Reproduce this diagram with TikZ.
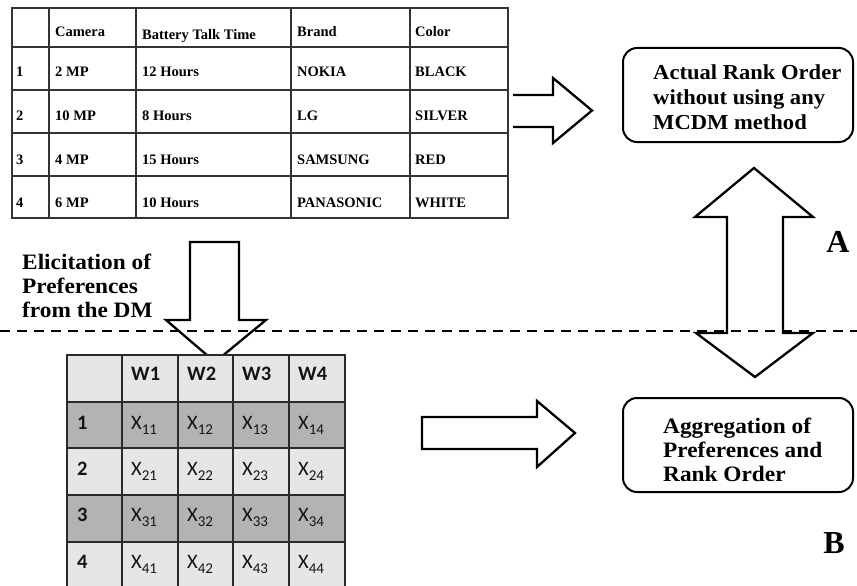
\documentclass[tikz,border=0pt]{standalone}
\usepackage{fontspec}
\setmainfont{Liberation Serif}
\newfontfamily\widefont[FakeStretch=1.06]{Liberation Serif}
\newfontfamily\calib{Carlito}
\definecolor{rowdark}{HTML}{B3B3B3}
\definecolor{rowlight}{HTML}{E6E6E6}
\definecolor{gridc}{HTML}{2A2A2A}
\newcommand{\xsub}[1]{X\raisebox{-5pt}{\fontsize{15}{16}\selectfont #1}}
\begin{document}
\begin{tikzpicture}[x=1pt,y=-1pt,line join=miter]
\useasboundingbox (0,0) rectangle (857,586);
\tikzset{
  tgrid/.style={draw=black!80,line width=1.3pt},
  ttxt/.style={anchor=base west,inner sep=0pt,font=\fontsize{14.5}{16}\selectfont\bfseries},
  blk/.style={draw=black,line width=2.3pt},
  rbox/.style={draw=black,line width=2pt,rounded corners=14pt,inner sep=0pt},
  btxt/.style={anchor=west,inner sep=0pt,align=left,font=\widefont\fontsize{22}{24}\selectfont\bfseries},
  btxta/.style={btxt,font=\widefont\fontsize{21.3}{25.2}\selectfont\bfseries},
  mgrid/.style={draw=gridc,line width=2pt},
  mhead/.style={anchor=base west,inner sep=0pt,text=black!92,font=\calib\fontsize{20.5}{22}\selectfont\bfseries},
  mcell/.style={anchor=base west,inner sep=0pt,text=black!92,font=\calib\fontsize{20.5}{22}\selectfont},
  lbl/.style={inner sep=0pt,font=\fontsize{32}{34}\selectfont\bfseries}
}
% ---------------- top table ----------------
\draw[tgrid] (12,8) rectangle (508,218);
\foreach \x in {49,136,291,410} \draw[tgrid] (\x,8) -- (\x,218);
\foreach \y in {47,90,133,176} \draw[tgrid] (12,\y) -- (508,\y);
\node[ttxt] (hcam) at (55,37) {Camera};
\node[ttxt] (hbat) at (142,40) {Battery Talk Time};
\node[ttxt] (hbra) at (297,37) {Brand};
\node[ttxt] (hcol) at (415,37) {Color};
\foreach \r/\yy/\cam/\bat/\bra/\col in {1/77/2 MP/12 Hours/NOKIA/BLACK,
  2/121/10 MP/8 Hours/LG/SILVER,
  3/164/4 MP/15 Hours/SAMSUNG/RED,
  4/207/6 MP/10 Hours/PANASONIC/WHITE}{
  \node[ttxt] (ti\r) at (16,\yy) {\r};
  \node[ttxt] (tc\r) at (55,\yy) {\cam};
  \node[ttxt] (tb\r) at (142,\yy) {\bat};
  \node[ttxt] (tr\r) at (297,\yy) {\bra};
  \node[ttxt] (tl\r) at (415,\yy) {\col};
}
% ---------------- arrows ----------------
% right arrow from top table (open tail)
\draw[blk] (513,95) -- (553,95) -- (553,78) -- (592,110.5) -- (553,143) -- (553,127) -- (513,127);
% down arrow (elicitation)
\draw[blk] (190,242) -- (239,242) -- (239,320) -- (266,320) -- (215,362) -- (166,320) -- (190,320) -- cycle;
% double vertical arrow
\draw[blk] (754,168) -- (813,217) -- (783,217) -- (783,333) -- (813,333) -- (755,377)
  -- (696,333) -- (727,333) -- (727,217) -- (695,217) -- cycle;
% bottom middle arrow
\draw[blk] (422,417) -- (537,417) -- (537,401) -- (575,433) -- (537,467) -- (537,449) -- (422,449) -- cycle;
% ---------------- bottom table ----------------
\fill[rowlight] (67,355) rectangle (345,402);
\fill[rowdark]  (67,402) rectangle (345,448);
\fill[rowlight] (67,448) rectangle (345,495);
\fill[rowdark]  (67,495) rectangle (345,542);
\fill[rowlight] (67,542) rectangle (345,590);
\foreach \x in {67,122,178,233,289,345} \draw[mgrid] (\x,355) -- (\x,590);
\foreach \y in {355,402,448,495,542} \draw[mgrid] (66,\y) -- (346,\y);
\foreach \c/\x in {1/131,2/187,3/242,4/298} \node[mhead] (w\c) at (\x,380) {W\c};
\foreach \r/\yy in {1/429,2/475,3/521,4/568}{
  \node[mhead] (n\r) at (77,\yy) {\r};
  \foreach \c/\x in {1/131,2/187,3/242,4/298}
    \node[mcell] (x\r\c) at (\x,\yy) {\xsub{\r\c}};
}
% ---------------- dashed separator ----------------
\coordinate (sepL) at (0,331);
\coordinate (sepR) at (857,331);
\draw[line width=2.8pt,dash pattern=on 10pt off 7pt] (sepL) -- (sepR);
% ---------------- boxes and texts ----------------
\node[rbox,minimum width=230pt,minimum height=94pt] (boxA) at (738,95) {};
\node[btxta] (boxAtext) at (653,97) {Actual Rank Order\\without using any\\MCDM method};
\node[rbox,minimum width=230pt,minimum height=94pt] (boxB) at (738,445) {};
\node[btxt] (boxBtext) at (663,450) {Aggregation of\\Preferences and\\Rank Order};
\node[btxt] (elic) at (22,286) {Elicitation of\\Preferences\\from the DM};
\node[lbl] (labA) at (838,242) {A};
\node[lbl] (labB) at (834,543) {B};
\end{tikzpicture}
\end{document}
